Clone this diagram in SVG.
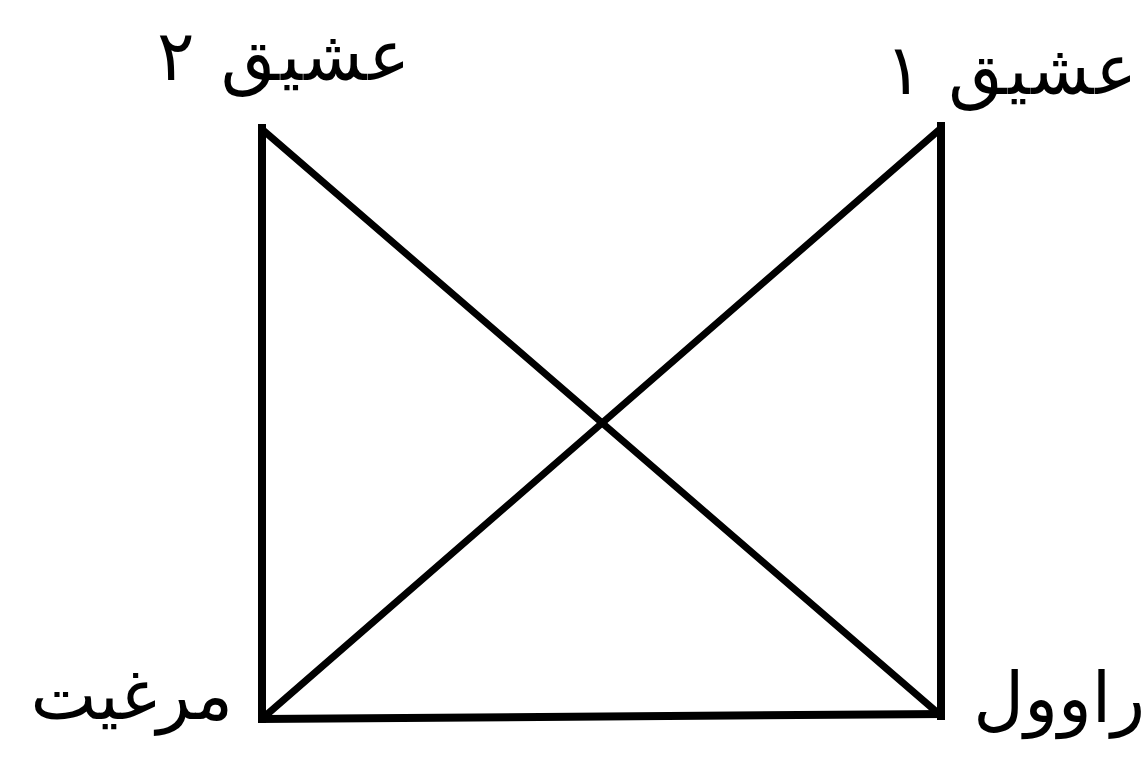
<svg xmlns="http://www.w3.org/2000/svg" width="1147" height="757" viewBox="0 0 1147 757">
<style>
.e{stroke:#000;stroke-width:8;stroke-linecap:square;fill:none}
.d{stroke:#000;stroke-width:7;stroke-linecap:round;fill:none}
.t{font-family:"DejaVu Sans","Noto Sans",sans-serif;font-size:70px;fill:#000}
</style>
<rect width="1147" height="757" fill="#fff"/>
<g id="connectors">
<line class="e" x1="262" y1="128" x2="262" y2="719"/>
<line class="e" x1="941" y1="126" x2="941" y2="716"/>
<line class="e" x1="262" y1="719" x2="941" y2="714"/>
<line class="d" x1="264" y1="131" x2="939" y2="714"/>
<line class="d" x1="939" y1="130" x2="264" y2="717"/>
</g>
<g id="node-ashiq2"><text class="t" x="410" y="80" text-anchor="start" direction="rtl" textLength="253" lengthAdjust="spacing">عشيق ۲</text></g>
<g id="node-ashiq1"><text class="t" x="1137" y="94" text-anchor="start" direction="rtl" textLength="252" lengthAdjust="spacing">عشيق ۱</text></g>
<g id="node-murghit"><text class="t" x="233" y="719" text-anchor="start" direction="rtl">مرغيت</text></g>
<g id="node-rawol"><text class="t" x="1145" y="722" text-anchor="start" direction="rtl">راوول</text></g>
</svg>
